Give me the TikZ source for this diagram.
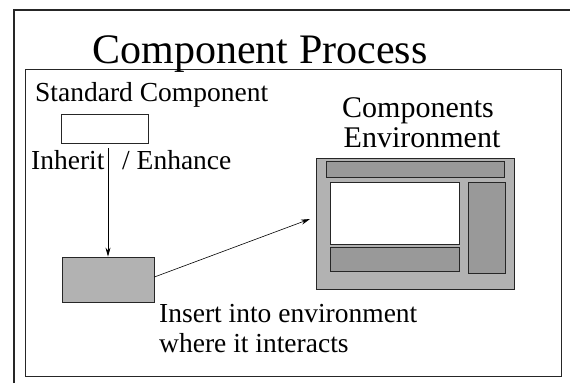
\documentclass[tikz,border=0pt]{standalone}
\usepackage{fontspec}
\setmainfont{Liberation Serif}
\usetikzlibrary{arrows.meta}

\begin{document}
\begin{tikzpicture}[x=1pt,y=-1pt,
  box/.style={draw=black!85,line width=0.8pt,inner sep=0pt},
  lightbox/.style={box,fill=black!30},
  darkbox/.style={box,fill=black!40},
  txt/.style={inner sep=0pt,font=\fontsize{27.5}{30}\selectfont},
  conn/.style={-{Stealth[length=9pt,width=5pt]},line width=0.6pt}]
\useasboundingbox (0,0) rectangle (570,383);
\draw[line width=2.5pt,black!85] (14,383) -- (14,10) -- (570,10);
\node[box,minimum width=536pt,minimum height=307pt] (frame) at (293,222.5) {};

\node[txt,anchor=base,font=\fontsize{42}{46}\selectfont] (title) at (260,63) {Component Process};

\node[txt,anchor=base west] (stdlabel) at (35,101) {Standard Component};
\node[box,fill=white,minimum width=87pt,minimum height=29pt] (std) at (104.5,128.5) {};
\node[lightbox,minimum width=92pt,minimum height=45pt] (comp) at (108,279.5) {};
\node[txt,anchor=base west] (inherit) at (31,169) {Inherit};
\node[txt,anchor=base west] (enhance) at (122,169) {/ Enhance};

\node[txt,anchor=base,font=\fontsize{30}{30}\selectfont] (envlabel1) at (418,117) {Components};
\node[txt,anchor=base,font=\fontsize{30}{30}\selectfont] (envlabel2) at (422,147) {Environment};
\node[lightbox,minimum width=198pt,minimum height=131pt] (env) at (415,223.5) {};
\node[darkbox,minimum width=178pt,minimum height=16pt] (topbar) at (415,169) {};
\node[box,fill=white,minimum width=129pt,minimum height=62pt] (view) at (394.5,213) {};
\node[darkbox,minimum width=129pt,minimum height=24pt] (bottombar) at (394.5,259) {};
\node[darkbox,minimum width=37pt,minimum height=91pt] (sidebar) at (486.5,227.5) {};

\node[txt,anchor=base west] (insert1) at (159,322) {Insert into environment};
\node[txt,anchor=base west] (insert2) at (159,352) {where it interacts};

\coordinate (envin) at (310,219);
\draw[conn] ([yshift=-5pt]std.south -| comp.north) -- (comp.north);
\draw[conn] ([yshift=2.5pt]comp.east) -- (envin);
\end{tikzpicture}
\end{document}
